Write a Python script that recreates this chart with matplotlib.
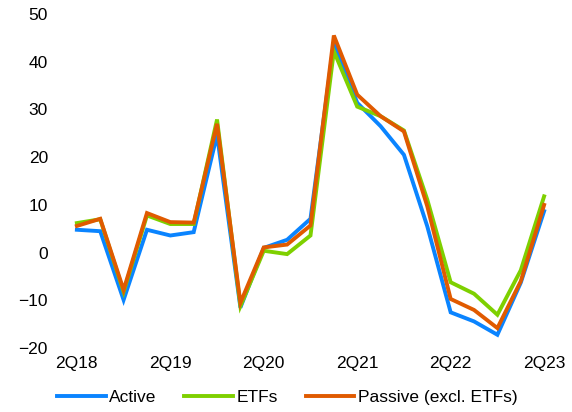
import matplotlib.pyplot as plt

plt.rcParams['font.family'] = ['Liberation Sans', 'DejaVu Sans']

# quarterly values, 2Q18 .. 2Q23
quarters = ['2Q18', '3Q18', '4Q18', '1Q19', '2Q19', '3Q19', '4Q19',
            '1Q20', '2Q20', '3Q20', '4Q20', '1Q21', '2Q21', '3Q21',
            '4Q21', '1Q22', '2Q22', '3Q22', '4Q22', '1Q23', '2Q23']
active = [4.8, 4.5, -9.9, 4.8, 3.6, 4.3, 24.7, -11.5, 1.0, 2.7, 7.1,
          44.1, 31.4, 26.5, 20.5, 5.5, -12.5, -14.4, -17.2, -6.3, 8.7]
etfs = [6.2, 7.0, -8.2, 7.8, 6.0, 6.0, 27.9, -11.2, 0.4, -0.3, 3.6,
        42.2, 30.6, 28.6, 25.6, 11.1, -6.2, -8.6, -13.0, -3.7, 11.8]
passive = [5.6, 7.1, -7.8, 8.3, 6.4, 6.3, 27.0, -10.5, 1.1, 1.7, 5.7,
           45.5, 33.1, 28.6, 25.4, 9.7, -9.7, -12.0, -15.8, -6.0, 10.0]
tick_labels = ['2Q18', '2Q19', '2Q20', '2Q21', '2Q22', '2Q23']

x = list(range(len(quarters)))

fig = plt.figure(figsize=(5.72, 4.12), dpi=100)
ax = fig.add_axes([0.096, 0.155, 0.892, 0.811])

ax.plot(x, active, color='#0A84FF', lw=2.8, label='Active', solid_joinstyle='miter')
ax.plot(x, etfs, color='#7ED000', lw=2.8, label='ETFs', solid_joinstyle='miter')
ax.plot(x, passive, color='#E05A00', lw=2.8, label='Passive (excl. ETFs)', solid_joinstyle='miter')

ax.set_xlim(-0.94, 20.9)
ax.set_ylim(-20, 50)
ax.set_yticks(range(-20, 51, 10))
ax.set_xticks([quarters.index(t) for t in tick_labels])
ax.set_xticklabels(tick_labels)
ax.tick_params(length=0, labelsize=12.5, colors='black')
ax.tick_params(axis='y', pad=5)
ax.tick_params(axis='x', pad=6)
for s in ax.spines.values():
    s.set_visible(False)

fig.legend(loc='center', bbox_to_anchor=(0.502, 0.036), ncol=3, frameon=False,
           fontsize=12.5, handlelength=2.8, handletextpad=0.2, columnspacing=1.6)

fig.savefig('out.png', dpi=100)
